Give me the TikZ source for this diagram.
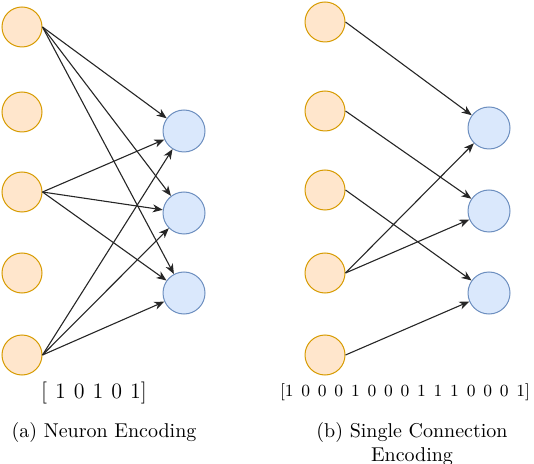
\documentclass[tikz,border=0pt]{standalone}
\usetikzlibrary{arrows.meta}
\begin{document}
\definecolor{inputfill}{HTML}{FFE6CC}
\definecolor{inputdraw}{HTML}{D79B00}
\definecolor{outputfill}{HTML}{DAE8FC}
\definecolor{outputdraw}{HTML}{6C8EBF}
\begin{tikzpicture}[>={Stealth[length=5pt,width=4pt,inset=1.5pt]}, x=0.5pt, y=-0.5pt,
  inneuron/.style={circle, draw=inputdraw, fill=inputfill, line width=0.5pt, inner sep=0pt, minimum size=20pt},
  outneuron/.style={circle, draw=outputdraw, fill=outputfill, line width=0.5pt, inner sep=0pt, minimum size=21pt},
  link/.style={->, line width=0.55pt, black!85}]
\useasboundingbox (0,0) rectangle (534,464);
% (a) neuron encoding
\node[inneuron] (ain1) at (22,27) {};
\node[inneuron] (ain2) at (22,112) {};
\node[inneuron] (ain3) at (22,192) {};
\node[inneuron] (ain4) at (22,273) {};
\node[inneuron] (ain5) at (22,355) {};
\node[outneuron] (aout1) at (184,131) {};
\node[outneuron] (aout2) at (184,213) {};
\node[outneuron] (aout3) at (184,293) {};
\draw[link] (ain1.east) -- (aout1);
\draw[link] (ain1.east) -- (aout2);
\draw[link] (ain1.east) -- (aout3);
\draw[link] (ain3.east) -- (aout1);
\draw[link] (ain3.east) -- (aout2);
\draw[link] (ain3.east) -- (aout3);
\draw[link] (ain5.east) -- (aout1);
\draw[link] (ain5.east) -- (aout2);
\draw[link] (ain5.east) -- (aout3);
\node[font={\fontsize{11}{13}\selectfont\spaceskip=4pt}] (avec) at (94,393) {[ 1 0 1 0 1]};
\node[anchor=north, inner sep=0pt] (acap) at (104,422) {(a) Neuron Encoding};
% (b) single connection encoding
\node[inneuron] (bin1) at (325,22) {};
\node[inneuron] (bin2) at (325,111) {};
\node[inneuron] (bin3) at (325,190) {};
\node[inneuron] (bin4) at (325,273) {};
\node[inneuron] (bin5) at (325,355) {};
\node[outneuron] (bout1) at (489,128) {};
\node[outneuron] (bout2) at (489,211) {};
\node[outneuron] (bout3) at (489,293) {};
\draw[link] (bin1.east) -- (bout1);
\draw[link] (bin2.east) -- (bout2);
\draw[link] (bin3.east) -- (bout3);
\draw[link] (bin4.east) -- (bout1);
\draw[link] (bin4.east) -- (bout2);
\draw[link] (bin5.east) -- (bout3);
\node[font={\fontsize{8.5}{10}\selectfont\spaceskip=3.9pt}] (bvec) at (405,392) {[1 0 0 0 1 0 0 0 1 1 1 0 0 0 1]};
\node[anchor=north, inner sep=0pt, align=center] (bcap) at (412,422) {(b) Single Connection\\Encoding};
\end{tikzpicture}
\end{document}
